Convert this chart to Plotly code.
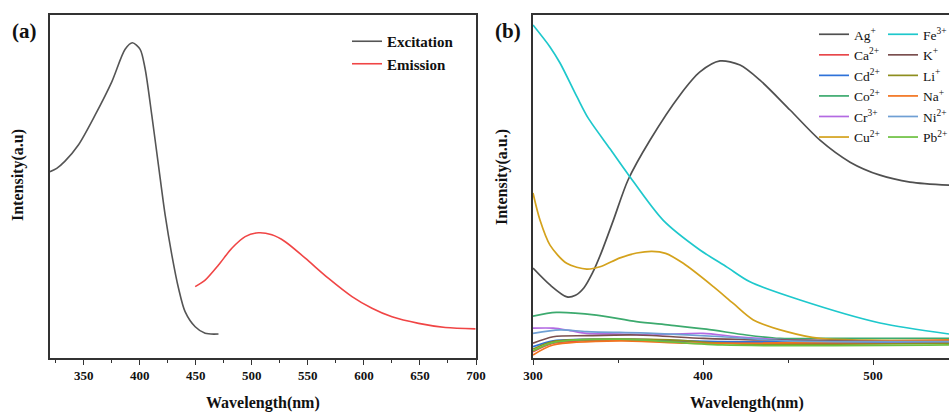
import plotly.graph_objects as go

# ---------------- Panel (a) data ----------------
exc_wl = [320, 326, 333.4, 345.3, 360.2, 375.1, 387.0, 393.5, 400.4, 404.8, 410.8,
          416.7, 422.7, 428.7, 434.6, 440.5, 449.5, 458.4, 470.3]
exc_int = [543, 553, 574, 621, 708, 805, 900, 919, 900, 844, 708,
           563, 417, 300, 204, 135, 91, 72, 70]

em_wl = [449.5, 458.4, 470.3, 482.2, 494.1, 506.0, 517.9, 529.8, 547.7, 568.5,
         589.4, 607.2, 625.1, 648.8, 672.7, 699.5]
em_int = [208, 227, 271, 320, 354, 365, 359, 339, 291, 232,
          179, 145, 120, 101, 89, 85]

# ---------------- Panel (b) data ----------------
ag_wl = [300, 310, 320, 325, 330, 335, 340, 347.3, 355.9, 368.8, 386.5, 398.2, 410,
         421.8, 433.5, 451.2, 468.8, 486.5, 504.1, 521.8, 544.7]
ag_int = [262, 213, 178, 183, 205, 248, 305, 402, 519, 635, 767, 834, 866,
          854, 810, 723, 635, 571, 533, 513, 504]

fe_wl = [300, 310, 315.9, 325.9, 332.4, 345.3, 355.9, 376.5, 398.2, 414.1, 427.6, 457.1, 504.1, 544.7]
fe_int = [971, 907, 860, 761, 700, 610, 536, 402, 315, 265, 222, 169, 102, 70]

cu_wl = [300, 304.1, 310, 319.8, 331.6, 339.4, 351.2, 361.0, 370, 378, 388.4,
         406.1, 417.8, 429.6, 449.2, 468.8, 498.2, 544.7]
cu_int = [481, 402, 329, 276, 259, 266, 292, 306, 311, 305, 276,
          208, 159, 111, 77, 57, 52, 50]

co_wl = [300, 313.7, 337.3, 360.8, 380.4, 402.0, 425.5, 445.1, 468.6, 544.7]
co_int = [122, 133, 125, 106, 96, 84, 67, 57, 57, 57]

cr_wl = [300, 311.9, 321.8, 331.6, 351.2, 370.6, 400.0, 419.8, 449.2, 544.7]
cr_int = [87, 87, 80, 72, 70, 67, 72, 62, 53, 48]

ni_wl = [300, 315.9, 331.6, 370.6, 411.2, 449.2, 544.7]
ni_int = [72, 82, 77, 72, 62, 50, 48]

k_wl = [300, 311.9, 331.6, 361.0, 400.2, 429.6, 544.7]
k_int = [43, 62, 65, 67, 57, 53, 48]

li_wl = [300, 311.9, 351.2, 380.6, 419.8, 544.7]
li_int = [26, 48, 55, 53, 41, 43]

ca_wl = [300, 311.9, 351.2, 390.4, 449.2, 544.7]
ca_int = [18, 43, 53, 48, 43, 45]

cd_wl = [300, 311.9, 351.2, 411.2, 544.7]
cd_int = [33, 50, 55, 48, 48]

na_wl = [300, 311.9, 351.2, 390.4, 429.4, 544.7]
na_int = [9, 38, 50, 43, 43, 53]

pb_wl = [300, 311.9, 351.2, 411.2, 544.7]
pb_int = [21, 45, 55, 38, 38]

ion_names = ["Ag<sup>+</sup>", "Ca<sup>2+</sup>", "Cd<sup>2+</sup>", "Co<sup>2+</sup>",
             "Cr<sup>3+</sup>", "Cu<sup>2+</sup>", "Fe<sup>3+</sup>", "K<sup>+</sup>",
             "Li<sup>+</sup>", "Na<sup>+</sup>", "Ni<sup>2+</sup>", "Pb<sup>2+</sup>"]
ion_wl = [ag_wl, ca_wl, cd_wl, co_wl, cr_wl, cu_wl, fe_wl, k_wl, li_wl, na_wl, ni_wl, pb_wl]
ion_int = [ag_int, ca_int, cd_int, co_int, cr_int, cu_int, fe_int, k_int, li_int, na_int, ni_int, pb_int]
ion_colors = ["#505050", "#e8474a", "#2e72d9", "#3caa6e", "#b36ae2", "#d4a21c",
              "#1ec8cc", "#7a4f4f", "#8e8e1e", "#f2731e", "#6f9fd4", "#6cc040"]

FONT = "Liberation Serif"
AX = "#333333"

fig = go.Figure()

fig.add_trace(go.Scatter(x=exc_wl, y=exc_int, mode="lines", name="Excitation",
                         line=dict(color="#555555", width=1.6, shape="spline", smoothing=0.8),
                         xaxis="x", yaxis="y", legend="legend"))
fig.add_trace(go.Scatter(x=em_wl, y=em_int, mode="lines", name="Emission",
                         line=dict(color="#f04545", width=1.6, shape="spline", smoothing=0.8),
                         xaxis="x", yaxis="y", legend="legend"))

for i, (nm, wl, it, c) in enumerate(zip(ion_names, ion_wl, ion_int, ion_colors)):
    fig.add_trace(go.Scatter(x=wl, y=it, mode="lines", name=nm,
                             line=dict(color=c, width=1.7, shape="spline", smoothing=0.8),
                             xaxis="x2", yaxis="y2",
                             legend="legend2" if i < 6 else "legend3"))

W, H = 949, 414
ydom = [(H - 358) / H, (H - 15) / H]

common_x = dict(showline=True, linecolor=AX, linewidth=1.5, ticks="outside",
                ticklen=5, tickwidth=1.3, tickcolor=AX, showgrid=False, zeroline=False,
                tickfont=dict(family=FONT, size=13, color="#111111", weight="bold"),
                mirror=True)
common_y = dict(showline=True, linecolor=AX, linewidth=1.5, ticks="",
                showticklabels=False, showgrid=False, zeroline=False, range=[0, 1000])

fig.update_layout(
    width=W, height=H,
    margin=dict(l=0, r=0, t=0, b=0, autoexpand=False),
    paper_bgcolor="white", plot_bgcolor="white",
    font=dict(family=FONT, color="#111111"),
    xaxis=dict(domain=[50 / W, 476 / W], range=[320, 700], tickvals=[350, 400, 450, 500, 550, 600, 650, 700],
               minor=dict(ticks="outside", ticklen=3, tickwidth=1.2, tickcolor=AX, dtick=25, tick0=325),
               anchor="y", **common_x),
    yaxis=dict(domain=ydom, anchor="x", mirror=True, **common_y),
    xaxis2=dict(domain=[533 / W, 1.0], range=[300, 544.7], tickvals=[300, 400, 500],
                minor=dict(ticks="outside", ticklen=3, tickwidth=1.2, tickcolor=AX, dtick=50, tick0=350),
                anchor="y2", **common_x),
    yaxis2=dict(domain=ydom, anchor="x2", mirror=False, **common_y),
    legend=dict(x=347 / W, y=(H - 25) / H, xanchor="left", yanchor="top",
                bgcolor="rgba(0,0,0,0)", borderwidth=0,
                font=dict(family=FONT, size=15, color="#111111", weight="bold"),
                tracegroupgap=0),
    legend2=dict(x=814 / W, y=(H - 19) / H, xanchor="left", yanchor="top",
                 bgcolor="rgba(0,0,0,0)", borderwidth=0,
                 font=dict(family=FONT, size=13.5, color="#111111"), tracegroupgap=0),
    legend3=dict(x=883 / W, y=(H - 19) / H, xanchor="left", yanchor="top",
                 bgcolor="rgba(0,0,0,0)", borderwidth=0,
                 font=dict(family=FONT, size=13.5, color="#111111"), tracegroupgap=0),
    showlegend=True,
)

ann_font_b = dict(family=FONT, size=16, color="#111111", weight="bold")
fig.add_annotation(text="Wavelength(nm)", x=263 / W, y=(H - 403) / H, xref="paper", yref="paper",
                   showarrow=False, font=ann_font_b, xanchor="center", yanchor="middle")
fig.add_annotation(text="Wavelength(nm)", x=747 / W, y=(H - 403) / H, xref="paper", yref="paper",
                   showarrow=False, font=ann_font_b, xanchor="center", yanchor="middle")
fig.add_annotation(text="Intensity(a.u)", x=18 / W, y=(H - 175) / H, xref="paper", yref="paper",
                   showarrow=False, font=ann_font_b, textangle=-90, xanchor="center", yanchor="middle")
fig.add_annotation(text="Intensity(a.u.)", x=502 / W, y=(H - 177) / H, xref="paper", yref="paper",
                   showarrow=False, font=ann_font_b, textangle=-90, xanchor="center", yanchor="middle")
fig.add_annotation(text="(a)", x=24 / W, y=(H - 31) / H, xref="paper", yref="paper",
                   showarrow=False, font=dict(family=FONT, size=21, color="#111111", weight="bold"),
                   xanchor="center", yanchor="middle")
fig.add_annotation(text="(b)", x=508 / W, y=(H - 31) / H, xref="paper", yref="paper",
                   showarrow=False, font=dict(family=FONT, size=21, color="#111111", weight="bold"),
                   xanchor="center", yanchor="middle")

fig.write_html("out.html")
